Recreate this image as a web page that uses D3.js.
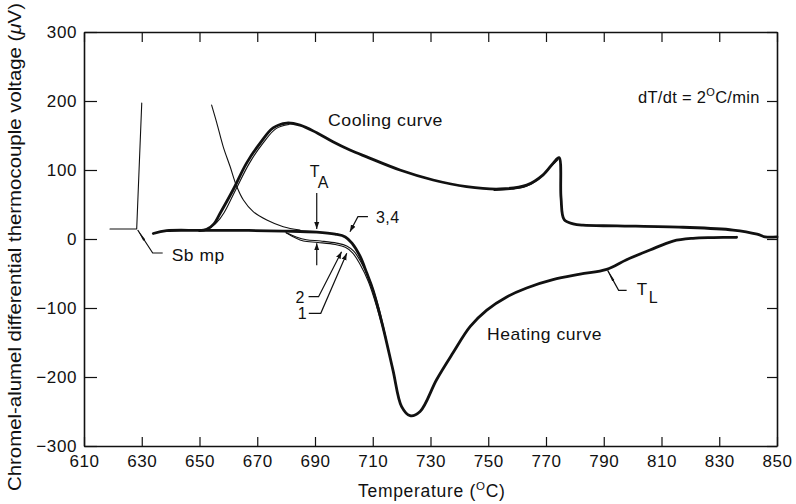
<!DOCTYPE html>
<html>
<head>
<meta charset="utf-8">
<script src="https://cdn.jsdelivr.net/npm/d3@7"></script>
<style>
  body { margin: 0; background: #fff; }
  svg { display: block; font-family: "Liberation Sans", Arial, Helvetica, sans-serif; }
</style>
</head>
<body>
<svg id="chart" width="796" height="504"></svg>
<script>
// Axis ticks
const xTicks = [610, 630, 650, 670, 690, 710, 730, 750, 770, 790, 810, 830, 850];
const yTicks = [-300, -200, -100, 0, 100, 200, 300];

// Heating run (°C, µV)
const heatingT = [634, 638.6, 650, 665, 679, 690.6, 697, 700.5, 702.8, 705.6, 707.9, 710.1, 713.5, 717, 720, 722.9, 726.4, 732.1, 737.8, 743.7, 749.5, 756.4, 763.3, 772.4, 781.8, 791, 797.9, 806, 814, 820.9, 828, 836];
const heatingV = [8, 12, 12.5, 12.5, 11.5, 10, 7, 3, -6, -25, -49, -74, -127, -190, -243, -256, -250, -204, -165, -127, -103, -84, -71, -59, -51, -44, -30, -16, -3, 1, 2, 2.5];

// Repeat heating runs 1 and 2, which split off below the main trace near T_A
const run1T = [680, 683, 686, 691, 697, 700.5, 703, 705.5, 708.5, 711.5, 714.5];
const run1V = [9, 2, -3, -5, -8, -12, -20, -36, -62, -100, -145];
const run2T = [680, 683.5, 687, 692, 697.5, 701, 703.5, 706, 709, 712, 714.5];
const run2V = [9, 3, -1, -3, -6, -10, -18, -34, -60, -98, -142];

// Cooling run
const coolingT = [650, 652.5, 655, 657.1, 661.6, 666.3, 671, 675.5, 680.2, 684.8, 690.6, 696.2, 702.1, 707.9, 719.4, 730.9, 742.5, 754.1, 763.3, 769, 772.5, 774.5, 775.2, 776.3, 779.4, 782.8, 794.6, 817.4, 834.8, 843.1, 845.9, 850];
const coolingV = [12, 14, 22, 37, 71, 110, 139, 161, 168, 165, 154, 141, 129, 119, 100, 85.5, 75.8, 72.5, 78, 93, 110, 118, 60, 28, 22, 20, 19, 17, 13, 7, 3, 3];

// Second cooling trace that separates on the rising edge and at the 775 °C peak
const cooling2aT = [653, 656, 658.5, 662.5, 667.3, 672, 676.5, 681];
const cooling2aV = [14, 24, 38, 71, 110, 139, 160, 166];
const cooling2bT = [752, 758, 763, 767.5, 771, 774.2];
const cooling2bV = [70.5, 72, 76, 87, 102, 115];

// Antimony melting-point calibration trace
const sbT = [619, 628.25, 630];
const sbV = [14.5, 14.5, 197];

// Thin trace falling from 200 µV into the baseline
const thinT = [654.2, 656, 658.2, 660.6, 662.9, 665.2, 668.6, 673.3, 679, 684.8];
const thinV = [194, 168, 134, 105, 76, 56.5, 39.6, 27.5, 17.8, 13];

// Annotated points
const tA = { t: 690.6, top: 14.5, bottom: -6 };
const tL = { t: 791, v: -44 };
const run34Tip = { t: 702.1, v: 10.6 };
const run2Tip = { t: 699.2, v: -18.4 };
const run1Tip = { t: 701, v: -20.7 };

const svg = d3.select("#chart");
const ink = "#111";
const x = d3.scaleLinear().domain([610, 850]).range([84, 777]);
const y = d3.scaleLinear().domain([-300, 300]).range([446, 32]);

// Frame with inward ticks on all four sides
function styleAxis(g) {
  g.attr("font-family", null).attr("font-size", 17);
  g.select(".domain").attr("stroke", ink).attr("stroke-width", 1.6);
  g.selectAll(".tick line").attr("stroke", ink).attr("stroke-width", 1.2);
  g.selectAll(".tick text").attr("fill", ink).attr("letter-spacing", 0.6);
}
svg.append("g").attr("transform", `translate(0,${y(-300)})`)
  .call(d3.axisBottom(x).tickValues(xTicks).tickSizeInner(-9).tickSizeOuter(0).tickPadding(9))
  .call(styleAxis);
svg.append("g").attr("transform", `translate(0,${y(300)})`)
  .call(d3.axisTop(x).tickValues(xTicks).tickSizeInner(-10).tickSizeOuter(0).tickFormat(() => ""))
  .call(styleAxis);
svg.append("g").attr("transform", `translate(${x(610)},0)`)
  .call(d3.axisLeft(y).tickValues(yTicks).tickSizeInner(-13).tickSizeOuter(0).tickPadding(7))
  .call(styleAxis);
svg.append("g").attr("transform", `translate(${x(850)},0)`)
  .call(d3.axisRight(y).tickValues(yTicks).tickSizeInner(-10).tickSizeOuter(0).tickFormat(() => ""))
  .call(styleAxis);

// Axis titles
const yTitle = svg.append("text")
  .attr("transform", `translate(21,${y(0) + 8}) rotate(-90)`)
  .attr("text-anchor", "middle").attr("font-size", 17.5).attr("fill", ink)
  .attr("textLength", 488).attr("lengthAdjust", "spacingAndGlyphs");
yTitle.append("tspan").text("Chromel-alumel differential thermocouple voltage (");
yTitle.append("tspan").attr("font-style", "italic").text("\u03bc");
yTitle.append("tspan").text("V)");

const xTitle = svg.append("text")
  .attr("x", 358).attr("y", 497).attr("font-size", 17.5).attr("fill", ink)
  .attr("letter-spacing", 0.7);
xTitle.append("tspan").text("Temperature (");
xTitle.append("tspan").attr("font-size", 11.5).attr("dy", -7).text("O");
xTitle.append("tspan").attr("dy", 7).text("C)");

// Curves
const pts = (T, V) => T.map((t, i) => [t, V[i]]);
const smooth = d3.line().x(d => x(d[0])).y(d => y(d[1])).curve(d3.curveCatmullRom.alpha(0.5));
const straight = d3.line().x(d => x(d[0])).y(d => y(d[1]));

function trace(d, gen, w) {
  svg.append("path").attr("d", gen(d)).attr("fill", "none")
    .attr("stroke", ink).attr("stroke-width", w)
    .attr("stroke-linejoin", "round").attr("stroke-linecap", "round");
}
trace(pts(sbT, sbV), straight, 1.1);
trace(pts(thinT, thinV), smooth, 1.1);
trace(pts(run1T, run1V), smooth, 1.1);
trace(pts(run2T, run2V), smooth, 1.1);
trace(pts(cooling2aT, cooling2aV), smooth, 1.1);
trace(pts(cooling2bT, cooling2bV), smooth, 1.1);
trace(pts(heatingT, heatingV), smooth, 2.8);
trace(pts(coolingT, coolingV), smooth, 2.8);

// Arrowheads
const defs = svg.append("defs");
defs.append("marker").attr("id", "wedge").attr("viewBox", "0 0 12 6")
  .attr("refX", 12).attr("refY", 3).attr("markerWidth", 12).attr("markerHeight", 6)
  .attr("markerUnits", "userSpaceOnUse").attr("orient", "auto")
  .append("path").attr("d", "M0,1.8 L12,3 L0,4.2 Z").attr("fill", ink);
defs.append("marker").attr("id", "head").attr("viewBox", "0 0 7 6")
  .attr("refX", 7).attr("refY", 3).attr("markerWidth", 7).attr("markerHeight", 6)
  .attr("markerUnits", "userSpaceOnUse").attr("orient", "auto")
  .append("path").attr("d", "M0,0.5 L7,3 L0,5.5 Z").attr("fill", ink);

function leader(points, marker) {
  svg.append("path").attr("d", d3.line()(points)).attr("fill", "none")
    .attr("stroke", ink).attr("stroke-width", 1.2)
    .attr("marker-end", `url(#${marker})`);
}
function label(txt, px, py, size, extra) {
  const t = svg.append("text").attr("x", px).attr("y", py).attr("font-size", size)
    .attr("fill", ink).attr("letter-spacing", 0.5).text(txt);
  if (extra) extra(t);
  return t;
}

// Sb melting point
const sbX = x(sbT[1]), sbY = y(sbV[1]);
leader([[sbX + 26, sbY + 24], [sbX + 16, sbY + 24], [sbX + 1, sbY + 1]], "wedge");
label("Sb mp", sbX + 35, sbY + 32, 17, t => t.attr("textLength", 53).attr("lengthAdjust", "spacingAndGlyphs"));

// T_A arrows
const taX = x(tA.t);
leader([[taX, y(tA.top) - 36], [taX, y(tA.top)]], "head");
leader([[taX, y(tA.bottom) + 22], [taX, y(tA.bottom)]], "head");
label("T", taX - 7, y(tA.top) - 52, 16);
label("A", taX + 1, y(tA.top) - 41, 16);

// Runs 3,4 / 2 / 1
const p34 = [x(run34Tip.t), y(run34Tip.v)];
leader([[p34[0] + 18, p34[1] - 15], [p34[0] + 8, p34[1] - 15], [p34[0], p34[1]]], "head");
label("3,4", p34[0] + 26, p34[1] - 9, 16);
const p2 = [x(run2Tip.t), y(run2Tip.v)];
leader([[p2[0] - 33, p2[1] + 45], [p2[0] - 23, p2[1] + 45], [p2[0], p2[1]]], "head");
label("2", p2[0] - 46, p2[1] + 51, 16);
const p1 = [x(run1Tip.t), y(run1Tip.v)];
leader([[p1[0] - 38, p1[1] + 60], [p1[0] - 26, p1[1] + 60], [p1[0], p1[1]]], "head");
label("1", p1[0] - 49, p1[1] + 66, 16);

// Liquidus T_L
const tlX = x(tL.t), tlY = y(tL.v);
leader([[tlX + 20, tlY + 21], [tlX + 12, tlY + 21], [tlX + 1, tlY + 1]], "wedge");
label("T", tlX + 30, tlY + 26, 17);
label("L", tlX + 42, tlY + 34, 16);

// Curve names and rate
label("Cooling curve", 328, 126, 17, t => t.attr("textLength", 115).attr("lengthAdjust", "spacingAndGlyphs"));
label("Heating curve", 487, 340, 17, t => t.attr("textLength", 115).attr("lengthAdjust", "spacingAndGlyphs"));
const rate = svg.append("text").attr("x", 638).attr("y", 103).attr("font-size", 16.5)
  .attr("fill", ink).attr("letter-spacing", 0.3);
rate.append("tspan").text("dT/dt = 2");
rate.append("tspan").attr("font-size", 11).attr("dy", -7).text("O");
rate.append("tspan").attr("dy", 7).text("C/min");
</script>
</body>
</html>
